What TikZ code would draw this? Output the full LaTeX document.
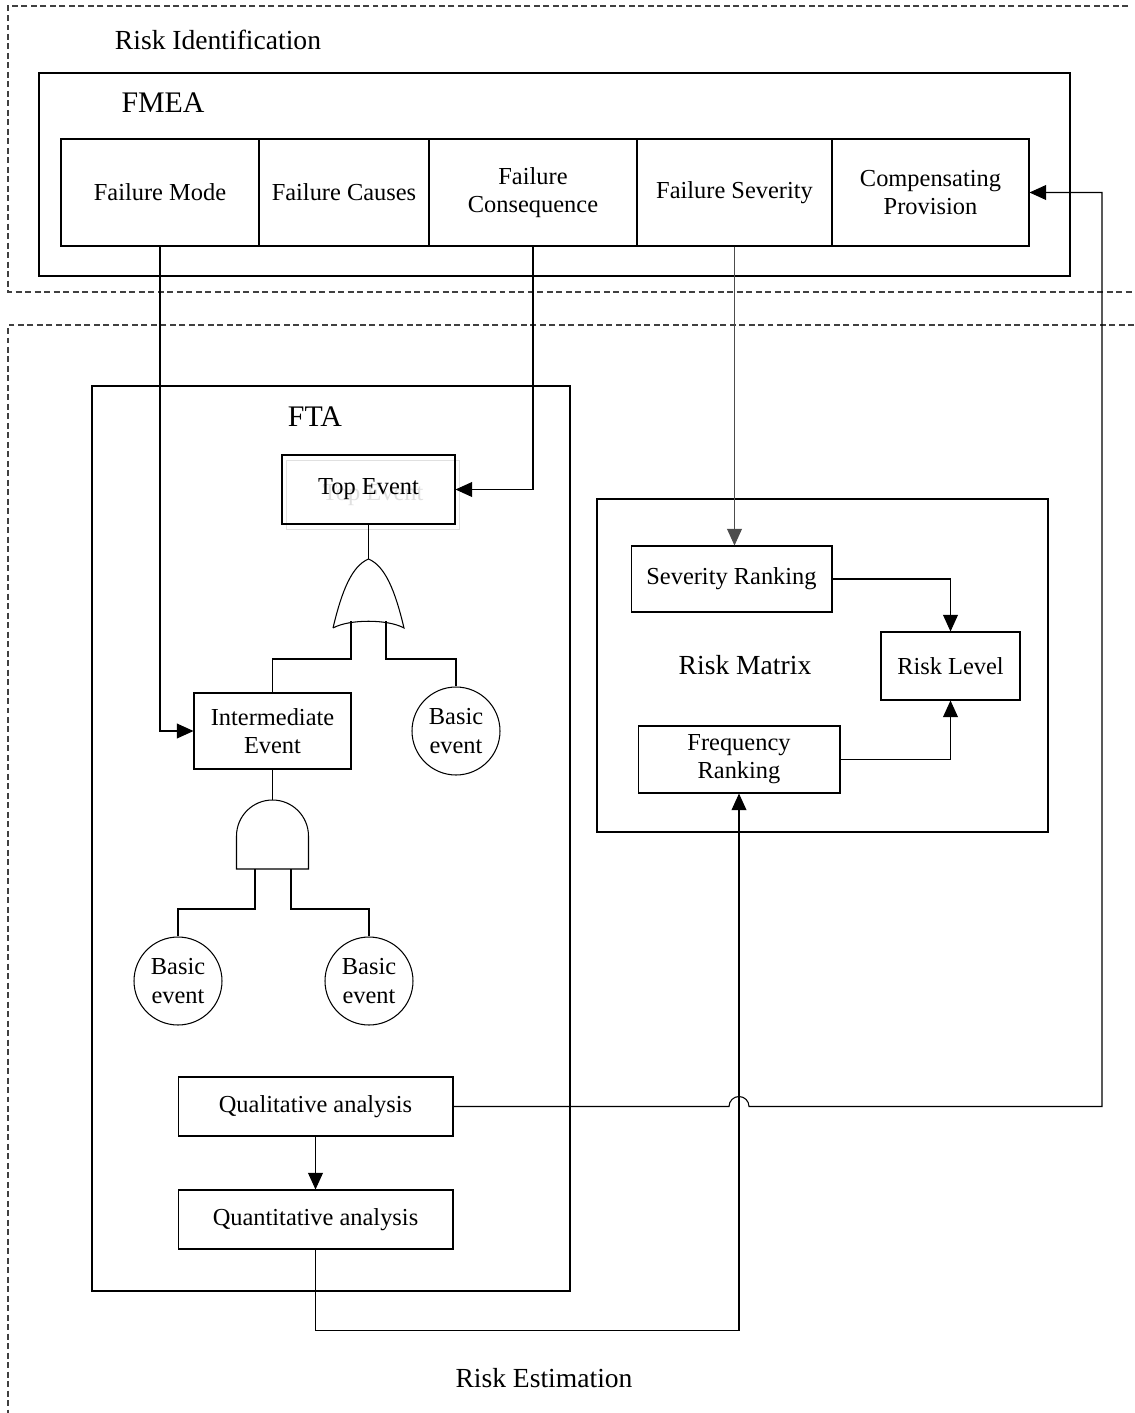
\documentclass[tikz,border=0pt]{standalone}
\usepackage{fontspec}
\setmainfont{Liberation Serif}
\usetikzlibrary{arrows.meta}

\begin{document}
\begin{tikzpicture}[x=0.02cm, y=-0.02cm, line width=0.6pt,
		font=\fontsize{13.9}{16}\selectfont,
		box/.style={draw, rectangle, inner sep=0pt, align=center},
		basic/.style={draw, circle, inner sep=0pt, minimum size=1.76cm, align=center},
		region/.style={draw=black!75, dash pattern=on 3.4pt off 2pt},
		arr/.style={-{Triangle[length=9.5pt, width=8.5pt]}},
		big/.style={font=\fontsize{15.7}{18}\selectfont},
		title/.style={font=\fontsize{17}{20}\selectfont}]
		\useasboundingbox (0,0) rectangle (1134,1413);

		% the two stages, open to the right
		\draw[region] (1128,6) -- (8,6) -- (8,292) -- (1134,292);
		\draw[region] (1134,325) -- (8,325) -- (8,1413);
		\node[big] (ident) at (218,40) {Risk Identification};
		\node[big] (estim) at (544,1378) {Risk Estimation};

		% FMEA table
		\draw (39,73) rectangle (1070,276);
		\node[title] (fmea) at (163,103) {FMEA};
		\node[box, minimum width=3.96cm, minimum height=2.14cm] (fm) at (160,192.5) {Failure Mode};
		\node[box, minimum width=3.4cm, minimum height=2.14cm] (fc) at (344,192.5) {Failure Causes};
		\node[box, minimum width=4.16cm, minimum height=2.14cm] (fcon) at (533,192.5) {Failure\\Consequence};
		\node[box, minimum width=3.9cm, minimum height=2.14cm] (fs) at (734.5,192.5) {Failure Severity};
		\node[box, minimum width=3.94cm, minimum height=2.14cm] (cp) at (930.5,192.5) {Compensating\\Provision};

		% FTA
		\draw (92,386) rectangle (570,1291);
		\node[title] (fta) at (315,417) {FTA};
		\node[box, draw=black!12, text=black!12, minimum width=3.46cm, minimum height=1.38cm] (topshadow) at (373,495) {Top Event};
		\node[box, minimum width=3.46cm, minimum height=1.38cm] (top) at (368.5,489.5) {Top Event};
		\node[box, minimum width=3.14cm, minimum height=1.52cm] (ie) at (272.5,731) {Intermediate\\Event};
		\node[basic] (be1) at (456,731) {Basic\\event};
		\node[basic] (be2) at (178,981) {Basic\\event};
		\node[basic] (be3) at (369,981) {Basic\\event};
		\node[box, minimum width=5.5cm, minimum height=1.18cm] (qual) at (315.5,1106.5) {Qualitative analysis};
		\node[box, minimum width=5.5cm, minimum height=1.18cm] (quant) at (315.5,1219.5) {Quantitative analysis};

		% OR gate
		\coordinate (orapex) at (368.5,559);
		\coordinate (orl) at (351,621);
		\coordinate (orr) at (386,621);
		\draw (333,628) .. controls (342,590) and (352,566) .. (orapex)
			.. controls (385,566) and (395,590) .. (404,628)
			.. controls (388,619) and (349,619) .. (333,628);
		\draw (top.south) -- (orapex);
		\draw (orl) -- ++(0,38) -| (ie.north);
		\draw (orr) -- ++(0,38) -| (be1.north);

		% AND gate
		\coordinate (andtop) at (272.5,800);
		\coordinate (andl) at (255,869);
		\coordinate (andr) at (291,869);
		\draw (236.5,869) -- (236.5,836) arc[start angle=180, end angle=0, radius=0.72cm] -- (308.5,869) -- cycle;
		\draw (ie.south) -- (andtop);
		\draw (andl) -- ++(0,40) -| (be2.north);
		\draw (andr) -- ++(0,40) -| (be3.north);

		% risk matrix
		\draw (597,499) rectangle (1048,832);
		\node[big] (rm) at (745,665) {Risk Matrix};
		\node[box, minimum width=4.02cm, minimum height=1.32cm] (sev) at (731.5,579) {Severity Ranking};
		\node[box, minimum width=2.78cm, minimum height=1.36cm] (rl) at (950.5,666) {Risk Level};
		\node[box, minimum width=4.04cm, minimum height=1.34cm] (freq) at (739,759.5) {Frequency\\Ranking};

		\draw[arr] (sev.east) -| (rl.north);
		\draw[arr] (freq.east) -| (rl.south);

		% links between the stages
		\draw[arr] (fm.south) |- (ie.west);
		\draw[arr] (fcon.south) |- (top.east);
		\draw[arr, draw=black!70, fill=black!70] (fs.south) -- (fs.south |- sev.north);
		\draw[arr] (qual.south) -- (quant.north);
		\draw[arr] (quant.south) -- ++(0,81) -| (freq.south);
		\coordinate (hop) at (739,1106.5);
		\coordinate (back) at (1102,1106.5);
		\draw[arr] (qual.east) -- ([xshift=-0.2cm]hop) arc[start angle=180, end angle=0, radius=0.2cm] -- (back) |- (cp.east);
	\end{tikzpicture}
\end{document}
